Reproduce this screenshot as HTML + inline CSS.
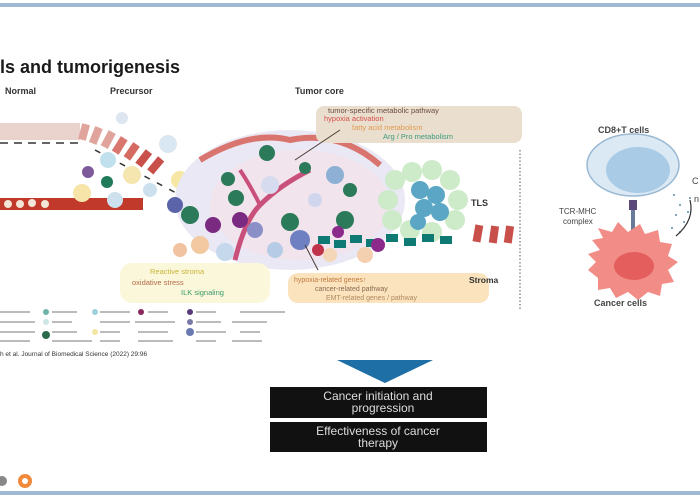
<!DOCTYPE html>
<html><head><meta charset="utf-8"><style>
html,body{margin:0;padding:0;background:#fff;width:700px;height:500px;overflow:hidden}
svg{display:block}
text{font-family:"Liberation Sans",sans-serif}
</style></head><body>
<svg width="700" height="500" viewBox="0 0 700 500">
<rect x="0" y="0" width="700" height="500" fill="#fff"/>
<rect x="0" y="3" width="700" height="4" fill="#9fb9d3"/>
<rect x="0" y="491" width="700" height="4" fill="#9fb9d3"/>

<text x="0" y="73" font-size="18" font-weight="bold" fill="#1a1a1a">ls and tumorigenesis</text>
<text x="5" y="94" font-size="9" font-weight="bold" fill="#333">Normal</text>
<text x="110" y="94" font-size="9" font-weight="bold" fill="#333">Precursor</text>
<text x="295" y="94" font-size="9" font-weight="bold" fill="#333">Tumor core</text>

<rect x="0" y="123" width="80" height="17" fill="#e9d3cc"/>
<g fill="#e0a49c">
<rect x="80" y="124" width="8" height="16" transform="rotate(15 84 132)"/>
<rect x="92" y="127" width="8" height="17" transform="rotate(22 96 135)"/>
<rect x="104" y="131" width="8" height="17" transform="rotate(28 108 140)"/>
<rect x="116" y="137" width="8" height="17" transform="rotate(32 120 145)" fill="#d9776f"/>
<rect x="128" y="143" width="8" height="17" transform="rotate(35 132 151)" fill="#d56a63"/>
<rect x="140" y="150" width="8" height="17" transform="rotate(38 144 158)" fill="#c9504a"/>
<rect x="152" y="157" width="8" height="17" transform="rotate(40 156 165)" fill="#c9504a"/>
</g>
<line x1="0" y1="143" x2="80" y2="143" stroke="#333" stroke-width="1.5" stroke-dasharray="8 6"/>
<line x1="95" y1="150" x2="180" y2="195" stroke="#333" stroke-width="1.5" stroke-dasharray="6 8"/>
<rect x="0" y="198" width="143" height="12" fill="#c0392b"/>
<g fill="#f3e5d8"><circle cx="8" cy="204" r="4"/><circle cx="20" cy="204" r="4"/><circle cx="32" cy="203" r="4"/><circle cx="45" cy="204" r="4"/></g>
<g>
<circle cx="82" cy="193" r="9" fill="#f7e4a8"/><circle cx="115" cy="200" r="8" fill="#cde0ee"/>
<circle cx="108" cy="160" r="8" fill="#bfe0ec"/><circle cx="132" cy="175" r="9" fill="#f5e6b0"/>
<circle cx="107" cy="182" r="6" fill="#1f7a5a"/><circle cx="88" cy="172" r="6" fill="#7e5a9a"/>
<circle cx="150" cy="190" r="7" fill="#cde0ee"/><circle cx="180" cy="180" r="9" fill="#f7e7a5"/>
<circle cx="168" cy="144" r="9" fill="#d9e7f2"/><circle cx="122" cy="118" r="6" fill="#dde6f0"/>
</g>
<ellipse cx="290" cy="200" rx="115" ry="70" fill="#e9e8f4"/>
<ellipse cx="300" cy="205" rx="90" ry="55" fill="#f1e4ec"/>
<path d="M200 160 Q250 130 290 140 Q340 130 380 165" stroke="#d9746e" stroke-width="6" fill="none"/>
<path d="M235 260 Q245 220 260 205 Q280 185 310 170" stroke="#c9507a" stroke-width="5" fill="none"/>
<path d="M260 205 Q250 185 240 170" stroke="#c9507a" stroke-width="4" fill="none"/>
<g>
<circle cx="267" cy="153" r="8" fill="#2b7a5a"/><circle cx="305" cy="168" r="6" fill="#2b7a5a"/>
<circle cx="236" cy="198" r="8" fill="#2b7a5a"/><circle cx="228" cy="179" r="7" fill="#2b7a5a"/>
<circle cx="240" cy="220" r="8" fill="#7b2a82"/><circle cx="213" cy="225" r="8" fill="#7b2a82"/>
<circle cx="190" cy="215" r="9" fill="#2b7a5a"/><circle cx="175" cy="205" r="8" fill="#5b64a8"/>
<circle cx="255" cy="230" r="8" fill="#8a8fc8"/><circle cx="290" cy="222" r="9" fill="#2b7a5a"/>
<circle cx="345" cy="220" r="9" fill="#2b7a5a"/><circle cx="335" cy="175" r="9" fill="#8fb0d5"/>
<circle cx="300" cy="240" r="10" fill="#6f80c2"/><circle cx="275" cy="250" r="8" fill="#b5cbe6"/>
<circle cx="200" cy="245" r="9" fill="#f2c9a0"/><circle cx="225" cy="252" r="9" fill="#c6d8ec"/>
<circle cx="315" cy="200" r="7" fill="#cfd6ee"/><circle cx="270" cy="185" r="9" fill="#d7dbef"/>
<circle cx="350" cy="190" r="7" fill="#2b7a5a"/><circle cx="365" cy="255" r="8" fill="#f4d0b0"/>
<circle cx="180" cy="250" r="7" fill="#f2c3a0"/><circle cx="330" cy="255" r="7" fill="#f4d6b8"/>
</g>
<g fill="#cdeac9">
<circle cx="395" cy="180" r="10"/><circle cx="412" cy="172" r="10"/><circle cx="432" cy="170" r="10"/><circle cx="450" cy="180" r="10"/>
<circle cx="388" cy="200" r="10"/><circle cx="458" cy="200" r="10"/><circle cx="392" cy="220" r="10"/><circle cx="455" cy="220" r="10"/>
<circle cx="410" cy="230" r="10"/><circle cx="432" cy="232" r="10"/>
</g>
<g fill="#5aa6c4"><circle cx="420" cy="190" r="9"/><circle cx="436" cy="195" r="9"/><circle cx="424" cy="208" r="9"/><circle cx="440" cy="212" r="9"/><circle cx="418" cy="222" r="8"/></g>
<text x="471" y="206" font-size="9" font-weight="bold" fill="#333">TLS</text>
<g fill="#0e7a73">
<rect x="318" y="236" width="12" height="8"/><rect x="334" y="240" width="12" height="8"/><rect x="350" y="235" width="12" height="8"/>
<rect x="366" y="239" width="12" height="8"/><rect x="386" y="234" width="12" height="8"/><rect x="404" y="238" width="12" height="8"/>
<rect x="422" y="234" width="12" height="8"/><rect x="440" y="236" width="12" height="8"/>
</g>
<circle cx="338" cy="232" r="6" fill="#8b2a8a"/><circle cx="378" cy="245" r="7" fill="#8b2a8a"/><circle cx="318" cy="250" r="6" fill="#c0324a"/>
<g fill="#c9504a"><rect x="474" y="225" width="8" height="17" transform="rotate(10 478 233)"/><rect x="490" y="226" width="8" height="17" transform="rotate(8 494 234)"/><rect x="505" y="226" width="8" height="17" transform="rotate(8 509 234)"/></g>
<line x1="520" y1="150" x2="520" y2="310" stroke="#555" stroke-width="1" stroke-dasharray="1.5 2"/>

<rect x="316" y="106" width="206" height="37" rx="8" fill="#eadfcf"/>
<text x="328" y="113" font-size="7.5" fill="#6b4a40">tumor-specific metabolic pathway</text>
<text x="324" y="121" font-size="7.5" fill="#d6504a">hypoxia activation</text>
<text x="352" y="130" font-size="7.5" fill="#e09a50">fatty acid metabolism</text>
<text x="383" y="139" font-size="7.5" fill="#3d9a7a">Arg / Pro metabolism</text>
<line x1="295" y1="160" x2="340" y2="130" stroke="#4a3a34" stroke-width="1"/>
<line x1="305" y1="245" x2="318" y2="270" stroke="#4a3a34" stroke-width="1"/>

<rect x="120" y="263" width="150" height="40" rx="12" fill="#fbf7da"/>
<text x="150" y="274" font-size="7.5" fill="#c7b53a">Reactive stroma</text>
<text x="132" y="285" font-size="7.5" fill="#b46a4a">oxidative stress</text>
<text x="181" y="295" font-size="7.5" fill="#3a9a6a">ILK signaling</text>
<rect x="288" y="273" width="201" height="30" rx="10" fill="#fbe3bd"/>
<text x="294" y="282" font-size="7" fill="#c07a40">hypoxia-related genes↑</text>
<text x="315" y="291" font-size="7" fill="#8a6a50">cancer-related pathway</text>
<text x="326" y="300" font-size="7" fill="#b08a60">EMT-related genes / pathway</text>
<text x="469" y="283" font-size="8.5" font-weight="bold" fill="#333">Stroma</text>

<g fill="#9bb">
<circle cx="46" cy="312" r="3" fill="#6fb3a6"/><circle cx="95" cy="312" r="3" fill="#9cd0dc"/><circle cx="141" cy="312" r="3" fill="#8b2a5a"/><circle cx="190" cy="312" r="3" fill="#5a3a7a"/>
<circle cx="46" cy="322" r="3" fill="#cfe8e6"/><circle cx="190" cy="322" r="3" fill="#7a7aa8"/>
<circle cx="46" cy="335" r="4" fill="#2b6a4a"/><circle cx="95" cy="332" r="3" fill="#f3e6a0"/><circle cx="190" cy="332" r="4" fill="#6a7ab0"/>
</g>
<g fill="#bbb"><rect x="0" y="311" width="30" height="2"/><rect x="52" y="311" width="25" height="2"/><rect x="100" y="311" width="30" height="2"/><rect x="148" y="311" width="20" height="2"/><rect x="196" y="311" width="20" height="2"/><rect x="240" y="311" width="45" height="2"/>
<rect x="0" y="321" width="35" height="2"/><rect x="52" y="321" width="20" height="2"/><rect x="100" y="321" width="30" height="2"/><rect x="135" y="321" width="40" height="2"/><rect x="196" y="321" width="25" height="2"/><rect x="232" y="321" width="35" height="2"/>
<rect x="0" y="331" width="35" height="2"/><rect x="52" y="331" width="25" height="2"/><rect x="100" y="331" width="20" height="2"/><rect x="138" y="331" width="30" height="2"/><rect x="196" y="331" width="30" height="2"/><rect x="240" y="331" width="20" height="2"/>
<rect x="0" y="340" width="30" height="2"/><rect x="52" y="340" width="40" height="2"/><rect x="100" y="340" width="20" height="2"/><rect x="138" y="340" width="35" height="2"/><rect x="196" y="340" width="20" height="2"/><rect x="232" y="340" width="30" height="2"/></g>
<text x="0" y="356" font-size="6.5" fill="#333">h et al. Journal of Biomedical Science (2022) 29:96</text>

<text x="598" y="133" font-size="9" font-weight="bold" fill="#444">CD8+T cells</text>
<ellipse cx="633" cy="165" rx="46" ry="31" fill="#dbe9f5" stroke="#9ab8d2" stroke-width="1.5"/>
<ellipse cx="638" cy="170" rx="32" ry="23" fill="#a9cbe5"/>
<rect x="629" y="200" width="8" height="10" fill="#5a4a7a"/>
<rect x="631" y="210" width="4" height="22" fill="#6a7a9a"/>
<text x="559" y="214" font-size="8" fill="#444">TCR-MHC</text>
<text x="563" y="224" font-size="8" fill="#444">complex</text>
<path d="M600 250 L592 240 L603 238 L598 228 L612 232 L618 222 L628 232 L640 224 L645 234 L658 230 L660 242 L672 244 L668 256 L678 262 L668 270 L674 282 L662 284 L660 296 L648 292 L638 300 L628 292 L616 298 L610 288 L598 290 L598 278 L588 270 L596 262 L588 254 Z" fill="#f28c86"/>
<ellipse cx="634" cy="266" rx="20" ry="14" fill="#e45e5e"/>
<text x="594" y="306" font-size="9" font-weight="bold" fill="#444">Cancer cells</text>
<g fill="#5a8aa6"><circle cx="674" cy="195" r="1"/><circle cx="680" cy="205" r="1"/><circle cx="676" cy="215" r="1"/><circle cx="684" cy="222" r="1"/><circle cx="672" cy="228" r="1"/><circle cx="688" cy="212" r="1"/><circle cx="680" cy="232" r="1"/><circle cx="690" cy="198" r="1"/></g>
<path d="M690 200 Q695 220 676 236" stroke="#333" stroke-width="1.2" fill="none"/>
<text x="692" y="184" font-size="9" fill="#444">C</text>
<text x="694" y="202" font-size="9" fill="#444">n</text>

<polygon points="337,360 433,360 385,383" fill="#1d6fa6"/>
<rect x="270" y="387" width="217" height="31" fill="#111"/>
<text x="378" y="400" font-size="12" fill="#ddd" text-anchor="middle">Cancer initiation and</text>
<text x="383" y="412" font-size="12" fill="#ddd" text-anchor="middle">progression</text>
<rect x="270" y="422" width="217" height="30" fill="#111"/>
<text x="378" y="435" font-size="12" fill="#ddd" text-anchor="middle">Effectiveness of cancer</text>
<text x="378" y="447" font-size="12" fill="#ddd" text-anchor="middle">therapy</text>

<circle cx="2" cy="481" r="5" fill="#888"/>
<circle cx="25" cy="481" r="7" fill="#f08a3a"/>
<circle cx="25" cy="481" r="3" fill="#fff"/>
</svg>
</body></html>
